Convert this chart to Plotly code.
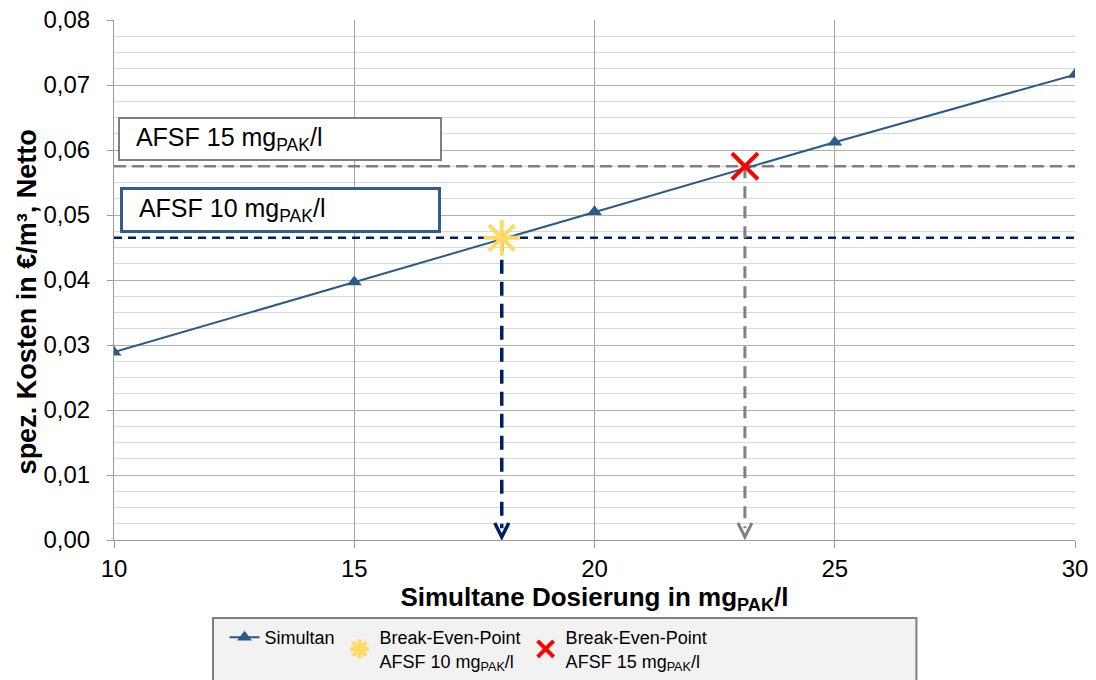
import plotly.graph_objects as go

# simulated dosage (mg_PAK/l) and specific cost (EUR/m3, net)
dosierung = [10, 15, 20, 25, 30]
kosten = [0.0289, 0.0397, 0.0505, 0.0612, 0.0716]

# break-even points against the AFSF variants
bep_10 = (18.07, 0.0465)
bep_15 = (23.13, 0.0575)

x_range = [10, 30]
y_range = [0, 0.08]

blue = "#2a5a8a"
navy = "#002060"
grey = "#808080"

fig = go.Figure()

# horizontal dashed reference lines
fig.add_trace(go.Scatter(x=x_range, y=[bep_15[1]] * 2, mode="lines",
                         line=dict(color=grey, width=2.5, dash="12px,6px"),
                         showlegend=False, hoverinfo="skip"))
fig.add_trace(go.Scatter(x=x_range, y=[bep_10[1]] * 2, mode="lines",
                         line=dict(color=navy, width=2.5, dash="8px,6px"),
                         showlegend=False, hoverinfo="skip"))

# vertical dashed drop lines
fig.add_trace(go.Scatter(x=[bep_10[0]] * 2, y=[bep_10[1], 0.0018], mode="lines",
                         line=dict(color=navy, width=3.5, dash="14px,8px"),
                         showlegend=False, hoverinfo="skip"))
fig.add_trace(go.Scatter(x=[bep_15[0]] * 2, y=[bep_15[1], 0.0018], mode="lines",
                         line=dict(color=grey, width=3, dash="12px,8px"),
                         showlegend=False, hoverinfo="skip"))

fig.add_trace(go.Scatter(
    x=dosierung, y=kosten, mode="lines+markers", name="Simultan",
    line=dict(color=blue, width=2),
    marker=dict(symbol="triangle-up", size=13, color=blue),
))
fig.add_trace(go.Scatter(
    x=[bep_10[0]], y=[bep_10[1]], mode="markers",
    name="Break-Even-Point<br>AFSF 10 mg<sub>PAK</sub>/l",
    marker=dict(symbol="asterisk-open", size=30, color="#ffd966", line=dict(color="#ffd966", width=4)),
))
fig.add_trace(go.Scatter(
    x=[bep_15[0]], y=[bep_15[1]], mode="markers",
    name="Break-Even-Point<br>AFSF 15 mg<sub>PAK</sub>/l",
    marker=dict(symbol="x-thin-open", size=26, color="#ff0000", line=dict(color="#ff0000", width=4)),
))

# arrow heads at the bottom of the drop lines
for (bx, _), col in [(bep_10, navy), (bep_15, grey)]:
    fig.add_shape(type="path", xref="x", yref="y", xsizemode="pixel", ysizemode="pixel",
                  xanchor=bx, yanchor=0, path="M-7,17 L0,3 L7,17",
                  line=dict(color=col, width=3.5 if col == navy else 3))

# legend frame (wider than plotly's own legend box)
fig.add_shape(type="rect", xref="paper", yref="paper", x0=0.103, x1=0.835, y0=-0.30, y1=-0.15,
              fillcolor="#f2f2f2", line=dict(color="#7f7f7f", width=2), layer="below")

# label boxes
fig.add_annotation(xref="paper", yref="paper", x=0.004, y=0.8135, xanchor="left", yanchor="top",
                   text="&nbsp;&nbsp;AFSF 15 mg<sub>PAK</sub>/l", showarrow=False, align="left",
                   width=316, height=36, borderpad=2, bgcolor="white",
                   bordercolor="#7f7f7f", borderwidth=2,
                   font=dict(size=25, color="black"))
fig.add_annotation(xref="paper", yref="paper", x=0.006, y=0.6789, xanchor="left", yanchor="top",
                   text="&nbsp;&nbsp;AFSF 10 mg<sub>PAK</sub>/l", showarrow=False, align="left",
                   width=311, height=36, borderpad=2, bgcolor="white",
                   bordercolor="#2e5f8a", borderwidth=3,
                   font=dict(size=25, color="black"))

# y axis title as a rotated annotation so it can sit where the original has it
fig.add_annotation(xref="paper", yref="paper", x=-0.091, y=0.458, xanchor="center", yanchor="middle",
                   text="<b>spez. Kosten in €/m³, Netto</b>", textangle=-90, showarrow=False,
                   font=dict(size=27, color="black"))

# the page puts the figure 8px in from the top left corner
fig.update_layout(
    width=1088, height=672,
    margin=dict(l=106, r=21, t=12, b=140, autoexpand=False),
    paper_bgcolor="white", plot_bgcolor="white",
    font=dict(family="Liberation Sans, Arial, sans-serif", size=24, color="black"),
    separators=",.",
    legend=dict(orientation="h", x=0.115, y=-0.152, xanchor="left", yanchor="top",
                bgcolor="rgba(0,0,0,0)", borderwidth=0,
                font=dict(size=18), itemwidth=30, traceorder="normal"),
)
fig.update_xaxes(
    range=x_range, dtick=5, tickformat="d", automargin=False, ticklabeloverflow="allow",
    showline=True, linecolor="#9a9a9a", linewidth=1,
    showgrid=True, gridcolor="#a6a6a6", gridwidth=1,
    ticks="outside", ticklen=7, tickcolor="#9a9a9a",
    zeroline=False,
    title=dict(text="<b>Simultane Dosierung in mg<sub>PAK</sub>/l</b>", standoff=4, font=dict(size=26)),
)
fig.update_yaxes(
    range=y_range, dtick=0.01, tickformat=".2f", automargin=False, ticklabeloverflow="allow",
    showline=True, linecolor="#9a9a9a", linewidth=1,
    showgrid=True, gridcolor="#b0b0b0", gridwidth=1,
    ticks="outside", ticklen=6, tickcolor="#9a9a9a", ticklabelstandoff=12,
    minor=dict(dtick=0.0025, showgrid=True, gridcolor="#d9d9d9", gridwidth=1),
    zeroline=False,
)

fig.write_html("out.html")
